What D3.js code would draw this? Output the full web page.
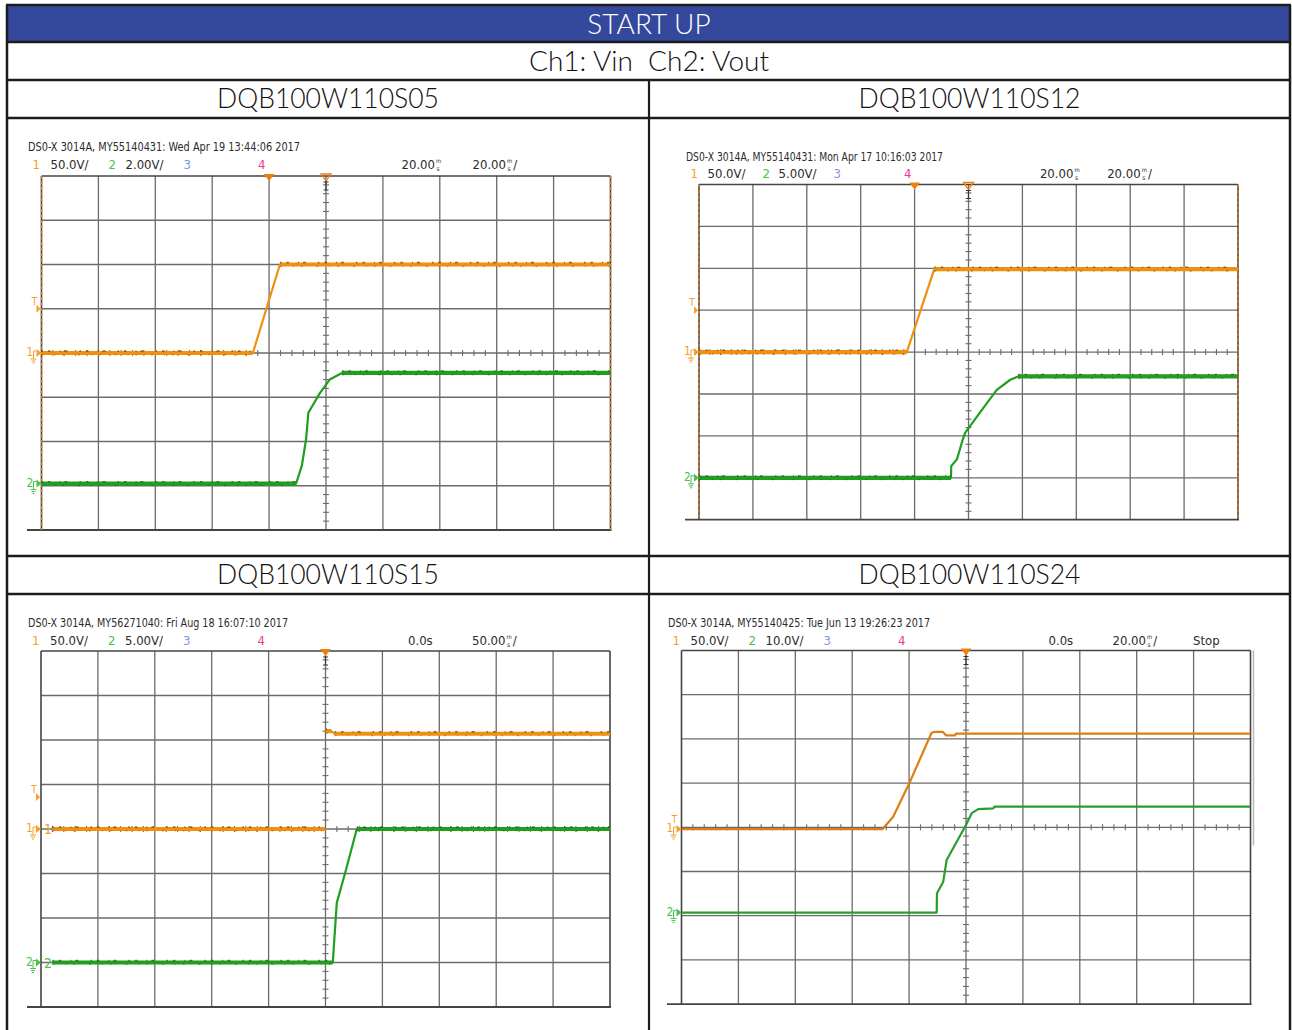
<!DOCTYPE html>
<html>
<head>
<meta charset="utf-8">
<script src="https://cdn.jsdelivr.net/npm/d3@7/dist/d3.min.js"></script>
<style>
  html, body { margin: 0; padding: 0; background: #fff; }
  svg { display: block; }
</style>
</head>
<body>
<svg id="chart" width="1292" height="1030"></svg>
<script>
// ---- Table text ----
const pageTitle = "START UP";
const channelLegend = "Ch1: Vin  Ch2: Vout";
const models = ["DQB100W110S05", "DQB100W110S12", "DQB100W110S15", "DQB100W110S24"];

// ---- Oscilloscope readouts ----
const scopeHeaders = [
  "DS0-X 3014A, MY55140431: Wed Apr 19 13:44:06 2017",
  "DS0-X 3014A, MY55140431: Mon Apr 17 10:16:03 2017",
  "DS0-X 3014A, MY56271040: Fri Aug 18 16:07:10 2017",
  "DS0-X 3014A, MY55140425: Tue Jun 13 19:26:23 2017"
];
const ch1Labels = ["50.0V/", "50.0V/", "50.0V/", "50.0V/"];
const ch2Labels = ["2.00V/", "5.00V/", "5.00V/", "10.0V/"];
const delayValues = ["20.00", "20.00", "0.0s", "0.0s"];
const timebaseValues = ["20.00", "20.00", "50.00", "20.00"];
const runStates = ["", "", "", "Stop"];

// ---- Channel settings ----
const msPerDiv = [20, 20, 50, 20];
const ch1VoltsPerDiv = [50, 50, 50, 50];
const ch2VoltsPerDiv = [2, 5, 5, 10];
const ch1Ground = [0, 0, 0, -0.04];        // divisions from screen centre
const ch2Ground = [-2.95, -3, -3, -1.93];
const triggerLevel = [1.0, 1.0, 0.72, 0.0]; // divisions from screen centre
const triggerTime = [-20, -20, 0, 0];       // ms

// ---- Captured waveforms: [time ms, volts]; null marks a gap in the record ----
const vin05 = [[-100, 0], [-25.7, 0], [-16.2, 100], [100, 100]];
const vout05 = [[-100, 0], [-10.5, 0], [-8.5, 0.8], [-7.0, 2.0], [-6.2, 3.2], [-2.1, 4.1], [1.3, 4.7], [5.6, 5.0], [100, 5.0]];

const vin12 = [[-100, 0], [-22.9, 0], [-12.7, 99], [100, 99]];
const vout12 = [[-100, 0], [-6.5, 0], [-6.4, 1.4], [-4.3, 2.2], [-2.1, 4.6], [-1.2, 5.4], [4.3, 7.8], [10.5, 10.5], [15.5, 11.7], [18.4, 12.1], [100, 12.1]];

const vin15 = [[-240, 0], [0, 0], null, [0.2, 110], [5, 110], [8, 107], [250, 107]];
const vout15 = [[-240, 0], [6.4, 0], [9.9, 6.7], [18.2, 10.5], [27.5, 15], [250, 15]];

const vin24 = [[-100, 0], [-29.3, 0], [-25.6, 14], [-19.9, 52], [-12.1, 109], [-10.9, 110], [-8.2, 110], [-7.0, 106], [-3.9, 106], [-3.5, 108], [100, 108]];
const vout24 = [[-100, 0], [-10.3, 0], [-10.2, 4.4], [-8.0, 7.0], [-6.8, 11.9], [0, 19.8], [2.0, 22.5], [4.3, 23.4], [9.6, 23.6], [10, 24], [100, 24]];

const vinTraces = [vin05, vin12, vin15, vin24];
const voutTraces = [vout05, vout12, vout15, vout24];

// ---- Layout ----
const C = {
  blue: "#34499b", border: "#1c1c1c",
  ch1: "#ef900e", ch2: "#1f9f1f",
  ch1Thin: "#dd7d12", ch2Thin: "#2c9c2c",
  lab1: "#f4a02a", lab2: "#4cbf4c", lab3: "#7f95e6", lab4: "#ee3a96",
  grid: "#6b6b6b", frame: "#444", text: "#2b2b2b"
};
const tableFont = "Lato, 'Noto Sans CJK SC', 'Open Sans', sans-serif";
const scopeFont = "'Liberation Sans Narrow', 'DejaVu Sans Condensed', 'Roboto', sans-serif";

const rowsY = [5, 42, 80, 118, 556, 594, 1032];
const tableX0 = 7, tableX1 = 1290, tableXm = 649;

const panels = [
  { x0: 41.5, y0: 176, dx: 56.9, dy: 44.25, tx: 28,  hy: 151, ry: 169, hw: 272, k: 1.0,   bold: true,  orangeEdges: true,  inlineTags: false, sideBar: false },
  { x0: 699,  y0: 184.5, dx: 53.9, dy: 41.9, tx: 686, hy: 161, ry: 178, hw: 257, k: 0.947, bold: true,  orangeEdges: true,  inlineTags: false, sideBar: false },
  { x0: 41,   y0: 651, dx: 56.9, dy: 44.5, tx: 28,  hy: 627, ry: 645, hw: 260, k: 1.0,   bold: true,  orangeEdges: false, inlineTags: true,  sideBar: false },
  { x0: 681.5, y0: 650.5, dx: 56.9, dy: 44.2, tx: 668, hy: 627, ry: 645, hw: 262, k: 1.0,  bold: false, orangeEdges: false, inlineTags: false, sideBar: true }
];

const svg = d3.select("#chart");

// ---- Table ----
const table = svg.append("g");
table.append("rect").attr("x", tableX0).attr("y", rowsY[0]).attr("width", tableX1 - tableX0).attr("height", rowsY[1] - rowsY[0]).attr("fill", C.blue);

rowsY.slice(0, 6).forEach(y => {
  table.append("line").attr("x1", tableX0 - 1).attr("x2", tableX1 + 1).attr("y1", y).attr("y2", y)
    .attr("stroke", C.border).attr("stroke-width", 2.5);
});
[tableX0, tableX1].forEach(x => {
  table.append("line").attr("x1", x).attr("x2", x).attr("y1", rowsY[0]).attr("y2", rowsY[6])
    .attr("stroke", C.border).attr("stroke-width", 2.5);
});
table.append("line").attr("x1", tableXm).attr("x2", tableXm).attr("y1", rowsY[2]).attr("y2", rowsY[6])
  .attr("stroke", C.border).attr("stroke-width", 2.2);

function tableText(str, x, y, color, size) {
  table.append("text").attr("x", x).attr("y", y).attr("text-anchor", "middle")
    .attr("dominant-baseline", "central")
    .style("white-space", "pre")
    .attr("font-family", tableFont).attr("font-weight", 300).attr("font-size", size)
    .attr("fill", color).text(str);
}
tableText(pageTitle, tableXm, (rowsY[0] + rowsY[1]) / 2 - 1, "#fff", 28);
tableText(channelLegend, tableXm, (rowsY[1] + rowsY[2]) / 2 - 1, "#111", 28);
tableText(models[0], (tableX0 + tableXm) / 2, (rowsY[2] + rowsY[3]) / 2 - 1, "#111", 26.5);
tableText(models[1], (tableXm + tableX1) / 2, (rowsY[2] + rowsY[3]) / 2 - 1, "#111", 26.5);
tableText(models[2], (tableX0 + tableXm) / 2, (rowsY[4] + rowsY[5]) / 2 - 1, "#111", 26.5);
tableText(models[3], (tableXm + tableX1) / 2, (rowsY[4] + rowsY[5]) / 2 - 1, "#111", 26.5);

// ---- Scope screens ----
panels.forEach((p, i) => {
  const g = svg.append("g");
  const x1 = p.x0 + 10 * p.dx, y1 = p.y0 + 8 * p.dy;
  const half = 5 * msPerDiv[i];
  const x = d3.scaleLinear().domain([-half, half]).range([p.x0, x1]);
  const yDiv = d3.scaleLinear().domain([-4, 4]).range([y1, p.y0]);
  const cx = x(0), cy = yDiv(0);

  // readout text
  g.append("text").attr("x", p.tx).attr("y", p.hy)
    .attr("font-family", scopeFont).attr("font-size", 13).attr("fill", C.text)
    .attr("textLength", p.hw).attr("lengthAdjust", "spacingAndGlyphs")
    .text(scopeHeaders[i]);

  const rx = off => p.x0 + off * p.k;
  function rtext(str, xx, color, size = 13, yy = p.ry) {
    return g.append("text").attr("x", xx).attr("y", yy)
      .attr("font-family", scopeFont).attr("font-size", size).attr("fill", color).text(str);
  }
  rtext("1", rx(-9), C.lab1);
  rtext(ch1Labels[i], rx(9), C.text);
  rtext("2", rx(67), C.lab2);
  rtext(ch2Labels[i], rx(84), C.text);
  rtext("3", rx(142), C.lab3);
  rtext("4", rx(216.5), C.lab4);

  // time value; millisecond values carry the stacked "m over s" unit
  function timeText(str, xx, slash) {
    const t = rtext(str, xx, C.text);
    if (str.endsWith("s")) return;
    const ux = xx + t.node().getComputedTextLength() + 1;
    const m = rtext("m", ux, C.text, 6, p.ry - 6);
    const s = rtext("s", ux + 0.6, C.text, 6.5, p.ry + 1.5);
    const uw = Math.max(m.node().getComputedTextLength(), s.node().getComputedTextLength() + 0.6);
    if (slash) rtext("/", ux + uw + 1, C.text);
  }
  timeText(delayValues[i], delayValues[i].endsWith("s") ? rx(367) : rx(360), false);
  timeText(timebaseValues[i], rx(431), true);
  if (runStates[i]) rtext(runStates[i], rx(511.5), C.text);

  // graticule
  const grid = g.append("g");
  d3.range(1, 10).forEach(k => {
    grid.append("line").attr("x1", p.x0 + k * p.dx).attr("x2", p.x0 + k * p.dx)
      .attr("y1", p.y0).attr("y2", y1).attr("stroke", C.grid).attr("stroke-width", 1.3);
  });
  d3.range(1, 8).forEach(k => {
    grid.append("line").attr("y1", p.y0 + k * p.dy).attr("y2", p.y0 + k * p.dy)
      .attr("x1", p.x0).attr("x2", x1).attr("stroke", C.grid).attr("stroke-width", 1.3);
  });
  // minor ticks along the centre axes
  d3.range(-25, 26).forEach(k => {
    if (k % 5 === 0) return;
    const xx = p.x0 + (k + 25) * p.dx / 5;
    grid.append("line").attr("x1", xx).attr("x2", xx).attr("y1", cy - 3).attr("y2", cy + 3)
      .attr("stroke", C.grid).attr("stroke-width", 1.1);
  });
  d3.range(-20, 21).forEach(k => {
    if (k % 5 === 0) return;
    const yy = cy + k * p.dy / 5;
    grid.append("line").attr("y1", yy).attr("y2", yy).attr("x1", cx - 3).attr("x2", cx + 3)
      .attr("stroke", C.grid).attr("stroke-width", 1.1);
  });
  // frame
  grid.append("line").attr("x1", p.x0).attr("x2", x1).attr("y1", p.y0).attr("y2", p.y0)
    .attr("stroke", C.frame).attr("stroke-width", 1.5);
  grid.append("line").attr("x1", p.tx - 1).attr("x2", x1 + 1).attr("y1", y1).attr("y2", y1)
    .attr("stroke", C.frame).attr("stroke-width", 1.8);
  [p.x0, x1].forEach(xx => {
    grid.append("line").attr("x1", xx).attr("x2", xx).attr("y1", p.y0).attr("y2", y1)
      .attr("stroke", C.frame).attr("stroke-width", 1.6);
    if (p.orangeEdges) {
      grid.append("line").attr("x1", xx).attr("x2", xx).attr("y1", p.y0).attr("y2", y1)
        .attr("stroke", "#d9781a").attr("stroke-width", 1.4).attr("stroke-dasharray", "3,2.5");
    }
  });
  if (p.sideBar) {
    g.append("line").attr("x1", x1 + 3).attr("x2", x1 + 3).attr("y1", p.y0).attr("y2", p.y0 + 195)
      .attr("stroke", "#b8b8b8").attr("stroke-width", 1.5);
  }

  // waveforms
  const clipId = "clip" + i;
  g.append("clipPath").attr("id", clipId).append("rect")
    .attr("x", p.x0).attr("y", p.y0 - 2).attr("width", x1 - p.x0).attr("height", y1 - p.y0 + 4);
  const wave = g.append("g").attr("clip-path", `url(#${clipId})`);

  function drawTrace(data, ground, vpd, color, thinColor) {
    const pts = data.map(d => d ? [x(d[0]), yDiv(ground + d[1] / vpd)] : null);
    const line = d3.line().defined(d => d);
    if (p.bold) {
      wave.append("path").attr("d", line(pts)).attr("fill", "none")
        .attr("stroke", color).attr("stroke-width", 2.2).attr("stroke-linejoin", "round");
      // settled stretches are drawn wide, with the dark speckle of sampling noise
      for (let k = 0; k < data.length - 1; k++) {
        if (!data[k] || !data[k + 1] || data[k][1] !== data[k + 1][1]) continue;
        const seg = [pts[k], pts[k + 1]];
        wave.append("path").attr("d", line(seg)).attr("fill", "none")
          .attr("stroke", color).attr("stroke-width", 4.2);
        wave.append("path").attr("d", line(seg.map(q => [q[0], q[1] - 2]))).attr("fill", "none")
          .attr("stroke", "#2d2608").attr("stroke-width", 1.3).attr("stroke-opacity", 0.6)
          .attr("stroke-dasharray", "1.5,5,2.5,9,1,4,3,12");
        wave.append("path").attr("d", line(seg.map(q => [q[0], q[1] + 2]))).attr("fill", "none")
          .attr("stroke", "#2d2608").attr("stroke-width", 1.1).attr("stroke-opacity", 0.4)
          .attr("stroke-dasharray", "2,11,1,7,1.5,14");
      }
    } else {
      wave.append("path").attr("d", line(pts)).attr("fill", "none")
        .attr("stroke", thinColor).attr("stroke-width", 2.2).attr("stroke-linejoin", "round");
    }
  }
  drawTrace(voutTraces[i], ch2Ground[i], ch2VoltsPerDiv[i], C.ch2, C.ch2Thin);
  drawTrace(vinTraces[i], ch1Ground[i], ch1VoltsPerDiv[i], C.ch1, C.ch1Thin);

  if (p.inlineTags) {
    [["1", ch1Ground[i], C.lab1], ["2", ch2Ground[i], C.lab2]].forEach(([s, gd, col]) => {
      g.append("text").attr("x", p.x0 + 3).attr("y", yDiv(gd) + 5)
        .attr("font-family", scopeFont).attr("font-size", 14).attr("fill", col).text(s);
    });
  }

  // ground reference markers on the left edge
  function groundMarker(label, level, color) {
    const yy = yDiv(level);
    const m = g.append("g");
    m.append("text").attr("x", p.x0 - 15).attr("y", yy + 3).attr("font-family", scopeFont)
      .attr("font-size", 12).attr("fill", color).text(label);
    m.append("path").attr("d", `M${p.x0 - 8},${yy - 2} v8 M${p.x0 - 11},${yy + 6} h6 M${p.x0 - 10},${yy + 8} h4 M${p.x0 - 9},${yy + 10} h2 M${p.x0 - 8},${yy - 2} h3`)
      .attr("stroke", color).attr("stroke-width", 1).attr("fill", "none");
    m.append("path").attr("d", `M${p.x0 - 5},${yy - 4} L${p.x0},${yy} L${p.x0 - 5},${yy + 4} Z`).attr("fill", color);
  }
  groundMarker("1", ch1Ground[i], C.lab1);
  groundMarker("2", ch2Ground[i], C.lab2);

  // trigger level marker
  const ty = yDiv(triggerLevel[i]);
  g.append("text").attr("x", p.x0 - 7).attr("y", ty - 4).attr("text-anchor", "middle")
    .attr("font-family", scopeFont).attr("font-size", 10).attr("fill", C.lab1).text("T");
  if (Math.abs(triggerLevel[i] - ch1Ground[i]) > 0.1) {
    g.append("path").attr("d", `M${p.x0 - 5},${ty - 4} L${p.x0 - 1},${ty} L${p.x0 - 5},${ty + 4} Z`).attr("fill", C.lab1);
  }

  // trigger position and delay markers along the top
  const tx = x(triggerTime[i]);
  g.append("path").attr("d", `M${tx - 5.5},${p.y0 - 2} L${tx + 5.5},${p.y0 - 2} L${tx},${p.y0 + 5} Z`).attr("fill", "#f07f10");
  if (triggerTime[i] !== 0) {
    g.append("path").attr("d", `M${cx - 5},${p.y0 - 2} L${cx + 5},${p.y0 - 2} L${cx},${p.y0 + 5} Z`)
      .attr("fill", "none").attr("stroke", "#f07f10").attr("stroke-width", 1.3);
  }
  g.append("path").attr("d", `M${cx},${p.y0 + 5} V${p.y0 + 14} M${cx - 2.5},${p.y0 + 6} h5 M${cx - 2.5},${p.y0 + 14} h5`)
    .attr("stroke", "#333").attr("stroke-width", 1.1).attr("fill", "none");
});
</script>
</body>
</html>
